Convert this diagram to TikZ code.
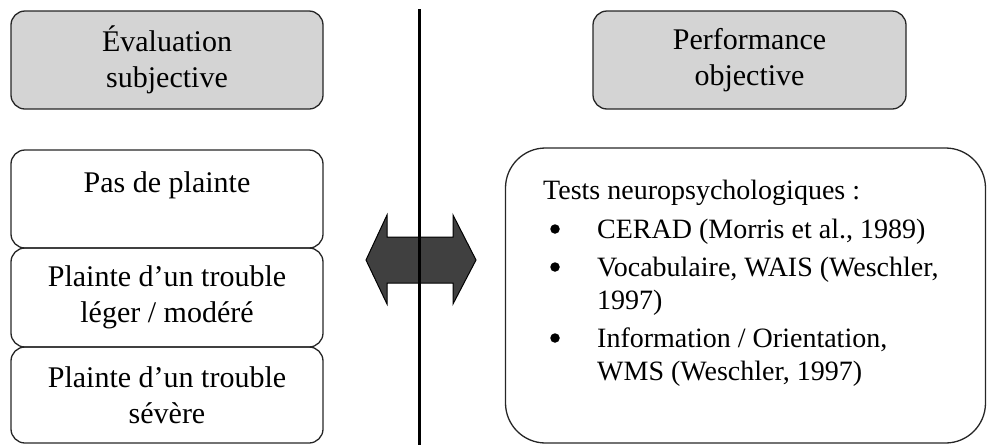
\documentclass[tikz,border=0pt]{standalone}
\usepackage{fontspec}
\setmainfont{Liberation Serif}
\begin{document}
\begin{tikzpicture}[x=1pt,y=-1pt,
  box/.style={draw=black!85, line width=1.3pt, rounded corners=14pt, inner sep=0pt, align=center},
  head/.style={box, fill=black!17},
  lt/.style={font=\fontsize{30}{36}\selectfont, align=center, inner sep=0pt},
  rt/.style={font=\fontsize{28}{36}\selectfont, anchor=base west, inner sep=0pt},
  bul/.style={circle, fill=black, inner sep=0pt, minimum size=9.5pt}]
\useasboundingbox (0,0) rectangle (988,445);
% left column
\node[head, minimum width=312pt, minimum height=98pt] (h1) at (167,60) {};
\node[lt] (h1t) at (h1.center) {Évaluation\\subjective};
\node[box, minimum width=312pt, minimum height=98pt] (b1) at (167,199) {};
\node[lt, anchor=base] (b1t) at (167,192) {Pas de plainte};
\node[box, minimum width=312pt, minimum height=99pt] (b2) at (167,297.5) {};
\node[lt] (b2t) at (b2.center) {Plainte d’un trouble\\léger / modéré};
\node[box, minimum width=312pt, minimum height=96pt] (b3) at (167,395) {};
\node[lt] (b3t) at (b3.center) {Plainte d’un trouble\\sévère};
% right column
\node[head, minimum width=313pt, minimum height=98pt] (h2) at (749.5,60) {};
\node[lt] (h2t) at (h2.center) {Performance\\objective};
\node[box, rounded corners=40pt, minimum width=480pt, minimum height=295pt] (r) at (745.5,295.5) {};
\node[rt] (t0) at (543,199) {Tests neuropsychologiques :};
\node[bul] (u1) at (555,229) {};
\node[rt] (t1) at (597,238) {CERAD (Morris et al., 1989)};
\node[bul] (u2) at (555,267) {};
\node[rt] (t2) at (597,276) {Vocabulaire, WAIS (Weschler,};
\node[rt] (t2b) at (597,309) {1997)};
\node[bul] (u3) at (555,338) {};
\node[rt] (t3) at (597,347) {Information / Orientation,};
\node[rt] (t3b) at (597,380) {WMS (Weschler, 1997)};
% double arrow
\draw[fill=black!75, draw=black, line width=1pt]
  (366,260) -- (387,215) -- (387,237) -- (453,237) -- (453,215) -- (476,260)
  -- (453,304) -- (453,283) -- (387,283) -- (387,304) -- cycle;
% vertical separator
\coordinate (vtop) at (419,9);
\coordinate (vbot) at (419,445);
\draw[line width=3pt] (vtop) -- (vbot);
\end{tikzpicture}
\end{document}
